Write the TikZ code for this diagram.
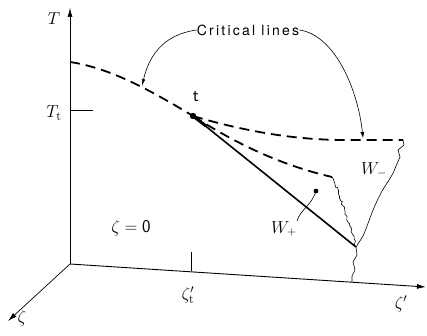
\documentclass[tikz,border=0pt]{standalone}
\usepackage{fontspec}
\newfontfamily\labfont[LetterSpace=16]{TeX Gyre Heros}
\usetikzlibrary{arrows.meta,decorations.pathmorphing}
\begin{document}
\begin{tikzpicture}[x=1pt,y=-1pt,
  axis/.style={line width=0.9pt},
  crit/.style={line width=1.8pt,dash pattern=on 10pt off 6pt},
  thinline/.style={line width=0.6pt},
  lab/.style={inner sep=0pt,font=\fontsize{18}{20}\selectfont},
  tip/.style={-{Latex[length=9pt,width=5pt]}}]
\useasboundingbox (0,0) rectangle (427,336);
% axes
\coordinate (O) at (70,264);
\coordinate (Ttop) at (70,8);
\coordinate (Zp) at (426,287);
\coordinate (Z) at (8,321);
\draw[axis,line width=0.6pt,tip] (O) -- (Ttop);
\draw[axis,tip] (O) -- (Zp);
\draw[axis,line width=0.7pt,tip] (O) -- (Z);
\node[lab] (Tl) at (54,19) {$T$};
\node[lab] (Ttl) at (54,113) {$T_{\mathrm t}$};
\coordinate (Tt0) at (70,110);
\coordinate (Tt1) at (93,110);
\draw[thinline] (Tt0) -- (Tt1);
\node[lab] (zpl) at (401,304) {$\zeta'$};
\node[lab] (zl) at (22,318) {$\zeta$};
\coordinate (zt0) at (191,252);
\coordinate (zt1) at (191,271);
\draw[thinline] (zt0) -- (zt1);
\node[lab] (ztl) at (188,295) {$\zeta'_{\mathrm t}$};
\node[lab] (z0) at (131,228) {$\zeta = \mathsf{0}$};
% triple point
\coordinate (t) at (193,116);
\node[lab] (tl) at (196,97) {\textsf{t}};
% critical lines
\coordinate (c0) at (70,62);
\draw[crit] (c0) .. controls (110,68) and (150,90) .. (t);
\coordinate (ue) at (403,140);
\draw[crit] (t) .. controls (250,133) and (300,140) .. (345,140) -- (ue);
\coordinate (le) at (332,177);
\draw[crit] (t) .. controls (235,143) and (280,165) .. (le);
% solid line
\coordinate (b) at (356,247);
\draw[line width=1.6pt] (t) -- (b);
\draw[line width=3pt] (t) -- (206,126);
\fill (t) circle (3.2pt);
% boundaries
\draw[thinline,decorate,decoration={random steps,amplitude=1.2pt,segment length=2.5pt}]
  (le) .. controls (340,195) and (350,225) .. (b);
\draw[thinline] (ue) -- (404,145) -- (398,150) -- (400,157) -- (396,166)
  .. controls (392,178) and (384,186) .. (380,195)
  .. controls (372,210) and (368,225) .. (363,236) -- (b);
\coordinate (ax) at (352,282);
\draw[thinline] (b) -- (357,255) -- (353,262) -- (355,270) -- (352,276) -- (ax);
% W labels
\node[lab] (wm) at (374,170) {$W_-$};
\node[lab] (wp) at (284,229) {$W_+$};
\coordinate (wd) at (316,191);
\fill (wd) circle (2.4pt);
\draw[thinline] (wd) .. controls (312,205) and (300,210) .. (297,221);
% Critical lines label
\node[inner sep=0pt,font=\labfont\fontsize{14}{16}\selectfont] (cl) at (248,30) {Critical lines};
\draw[thinline,-{Latex[length=7pt,width=3.5pt]}] (cl.west) .. controls (160,35) and (148,60) .. (142,86);
\draw[thinline,-{Latex[length=6pt,width=4pt]}] (cl.east) .. controls (335,35) and (358,90) .. (363,138);
\end{tikzpicture}
\end{document}
